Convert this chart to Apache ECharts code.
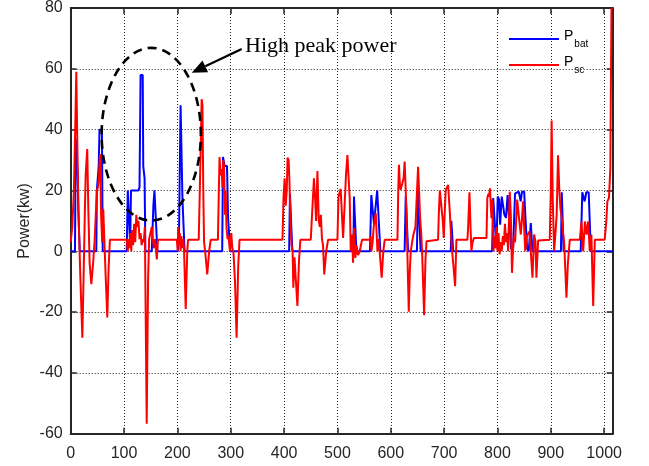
<!DOCTYPE html>
<html><head><meta charset="utf-8">
<script src="https://cdn.jsdelivr.net/npm/echarts@6/dist/echarts.min.js"></script>
<style>html,body{margin:0;padding:0;background:#fff}#c{width:649px;height:466px}</style>
</head><body><div id="c"></div>
<script>
// ---- data (time in s, power in kW) ----
const batT = [0,8,9.5,12,13,14,16,17,48,49,51,52.5,54,58.5,60,105,107,110,111.5,113,127,129,131,135,136,137.5,138.5,140,152,155,157,159.5,162.5,201,203,204,206,208,209.5,212,213.5,284,285.5,287,288.5,293,295,297,299,409.5,411,414,415.5,530,531,533.5,535.5,561,563.5,566,568.5,571.5,574.5,577.5,580.5,626,628,630.5,632.5,649,651,654,656,712.5,713.5,716,717,790,792,795,798,800.5,803,805,808,810.5,813,816,819,822,825.5,829,833,836,840,843.5,846,850,852.5,855.5,858.5,861,862.5,864.5,865.5,919,920.5,922.5,924,956,959,962,963.5,966.5,971,975,1016];
const batP = [0,0,37,37,25,15,15,0,0,20,20,28,40,40,0,0,20,20,2,20,20,21,58,58,28,28,24,0,0,15,20,20,0,0,5,20,48,48,17,17,0,0,31,31,28,28,11,11,0,0,19,19,0,0,18,18,0,0,18.5,18,9,9,20,20,0,0,18,18,0,0,20,20,0,0,10,10,0,0,17.5,18,1,18,17,8.7,18,18,12,11,18.5,18,1,0,19,19.6,19.6,16.4,19.6,19.6,10.9,1,0,0,9.3,9.3,0,0,19.4,19.4,0,0,19.4,19,16.4,19.4,19.4,0,0];
const scT = [0,3,6,9,10.5,12,13.5,15,18,21.8,24,26,28,31,33,35.5,38.7,42,45,47,49,51,53,55,57,59,61,63,65.5,68.6,71,73.5,105,107,109,110.5,112,113.5,115,117,119,121,123,125,127,129,131,133,135,137,139,142.5,145,147,150,152,154,156,158,160,161.5,163.5,199,200.5,201.5,203,204.5,206,207.5,209,211,212.5,215.6,218.5,220,240,242,245.5,247,248.5,250,252,256,259.5,262.5,276,277.5,279,281,283,284.5,286,287.5,289,290.5,292,294,296,298.5,301,303,305,308,311,314,316.5,397,399,401,403,405,406.5,408.5,410,412,414,416,417.3,419.5,421.5,425,428,430.5,450,453,456,458.5,460,462.5,465,467,469,471,473,475.3,479,482.5,500,502,506,508,510.6,513.7,516,518.7,521,523,525,527.5,529.3,531,533.7,535.6,538.7,541.8,546.2,560.6,562,563.7,566,568,571.8,573,575,577.5,580,583,586,588.7,612.5,614,615.3,617,618.5,621,624,626,628,629.5,631,633.7,636,637.5,640,642.5,646.2,648,651.2,653,655,657,658.7,662.5,665,667,670,688.7,690,691.9,695,697.5,699.4,701,703,705.6,707.5,710.6,713,715,718,720.6,723,743.7,745,747.5,749.5,751.2,753,756,779.4,781,783,784,786,787.5,788.7,790.6,792.5,794,796,798,800,802,804,806,808,810,812,814,816,818,820,823,825,827.2,829,831,833,835,837,839,841,843.7,846,848,850,852,855,857.5,860,863.7,865.6,868.7,871.2,873,876.2,878,898,900,901.5,903.7,906.2,908.5,911,913.5,916,918,920.6,923,925,929.3,932,935.6,954.4,957.5,960.6,964,967,970,973,976,979.4,982.5,1001,1004,1006,1009,1011.5,1013.7,1016];
const scP = [3,8,20,45,59,40,24,10,-8,-28.4,-10,8,25,33.6,14,-4,-10.8,-4,4,12,20,21,25,32,12,3,14,4,-8,-21.8,-6,3.8,3.8,0,4,1,6,0,7,2,9,3,12,8,10,4,6,2,4,3,8,-56.7,-10,4,4,8,4,1,4,0,-2.7,3.8,3.8,0,8,2,6,0,5,1,4,0,-19,0,3.8,3.8,20,50,48,20,3,0,-7.6,0,3.8,3.8,18,31,25,27,21,30,28,12,20,8,4,5,0,6,1,0,-10,-28.4,-5,3.8,3.8,18,24,15,20,30.8,30,23.5,10,2,0,-12,-2,-2,-18,-3,3.8,3.8,14,24,16,10,26.4,10,8,12,4,2,-7.6,0,3.8,3.8,18,20.5,20,4.4,16,25,31.6,24,17.5,0,5.5,-3.8,7.6,-2.2,2,-1.3,0,3.8,3.8,5,0,3,8,12.5,8,0,4,-2,-8.7,0,3.8,3.8,20,28.4,22,20.2,20,24,29.5,20,13,0,-19.9,-5,0,3,5.5,7.9,15,27.8,20,10.9,6,0,-21,-3,3.3,3.8,3.8,12,20,19.6,10,4.4,12,20.2,20.7,21.8,13,5,0,-6,-11.5,3.8,3.8,8,19.4,8,0,2.7,4.4,4.4,17.5,18.8,18,20.7,15,10.9,17,0,5,1,8,0,6,-1,3,0,5,2,9,3,6,0,19.6,12,-7.1,0,5,3,10,17,16.4,9.8,5.5,10.9,16.4,8,0,5,5.5,6.5,7,-8.7,5.5,3.3,-8.7,3.5,3.8,3.8,20,43,16.4,0,5.5,12,31.6,20,14,10.9,6,3,-15.3,-4,3.8,3.8,9.8,0,9.8,5.5,9.8,0,5.5,-18,3.8,3.8,9.8,16.4,17.5,27,79.7,80];

const xMin = 0, xMax = 1016, xStep = 100;
const yMin = -60, yMax = 80, yStep = 20;
const seriesNames = ['P_bat', 'P_sc'];
const yTitle = 'Power(kw)';
const noteText = 'High peak power';
// annotation geometry in data units
const noteEllipse = {cx: 151, cy: 38.5, rx: 93, ry: 28.4};
const noteArrow = {x1: 320.6, y1: 66.5, x2: 226.9, y2: 58.7};
const noteLabel = {x: 326.8, y: 67.4};

const pair = (t, v) => t.map((x, i) => [x, v[i]]);
const FONT = "'Liberation Sans', Arial, sans-serif";
const AX = '#262626';

const chart = echarts.init(document.getElementById('c'), null, {renderer: 'canvas'});
const baseX = {type: 'value', min: xMin, max: xMax, interval: xStep};
const baseY = {type: 'value', min: yMin, max: yMax, interval: yStep};
chart.setOption({
  animation: false,
  backgroundColor: '#fff',
  grid: {left: 70.7, right: 36.3, top: 5.6, bottom: 32.3, containLabel: false},
  legend: {
    orient: 'vertical', left: 509, top: 29, padding: 0, itemWidth: 50, itemHeight: 2, itemGap: 6,
    icon: 'rect',
    data: seriesNames,
    formatter: n => n === 'P_bat' ? '{p|P}{s|bat}' : '{p|P}{s|sc}',
    textStyle: {
      fontFamily: FONT, color: '#000',
      rich: {
        p: {fontFamily: FONT, fontSize: 14, color: '#000', padding: [0, 0, 6, 0]},
        s: {fontFamily: FONT, fontSize: 10, color: '#000', padding: [10, 0, 0, 1]}
      }
    }
  },
  xAxis: [
    Object.assign({}, baseX, {
      position: 'bottom',
      axisLine: {show: true, onZero: false, lineStyle: {color: AX, width: 2}},
      axisTick: {show: true, inside: true, length: 6, lineStyle: {color: AX, width: 1.5}},
      axisLabel: {color: AX, fontSize: 16, fontFamily: FONT, margin: 12,
        formatter: v => (v % xStep === 0 ? String(v) : '')},
      splitLine: {show: true, lineStyle: {color: '#222', width: 1, type: [1, 2]}}
    }),
    Object.assign({}, baseX, {
      position: 'top',
      axisLine: {show: true, onZero: false, lineStyle: {color: AX, width: 2}},
      axisTick: {show: true, inside: true, length: 6, lineStyle: {color: AX, width: 1.5}},
      axisLabel: {show: false}, splitLine: {show: false}
    })
  ],
  yAxis: [
    Object.assign({}, baseY, {
      position: 'left',
      name: yTitle, nameLocation: 'middle', nameGap: 38, nameMoveOverlap: false,
      nameTextStyle: {color: AX, fontSize: 16, fontFamily: FONT},
      axisLine: {show: true, onZero: false, lineStyle: {color: AX, width: 2}},
      axisTick: {show: true, inside: true, length: 6, lineStyle: {color: AX, width: 1.5}},
      axisLabel: {color: AX, fontSize: 16, fontFamily: FONT, margin: 8},
      splitLine: {show: true, lineStyle: {color: '#222', width: 1, type: [1, 2]}}
    }),
    Object.assign({}, baseY, {
      position: 'right',
      axisLine: {show: true, onZero: false, lineStyle: {color: AX, width: 2}},
      axisTick: {show: true, inside: true, length: 6, lineStyle: {color: AX, width: 1.5}},
      axisLabel: {show: false}, splitLine: {show: false}
    })
  ],
  series: [
    {name: 'P_bat', type: 'line', data: pair(batT, batP), symbol: 'none',
     lineStyle: {color: '#0000ff', width: 2}, itemStyle: {color: '#0000ff'}, z: 2},
    {name: 'P_sc', type: 'line', data: pair(scT, scP), symbol: 'none',
     lineStyle: {color: '#ff0000', width: 2}, itemStyle: {color: '#ff0000'}, z: 3}
  ]
});

// annotation (positioned from data coordinates)
const P = (x, y) => chart.convertToPixel({xAxisIndex: 0, yAxisIndex: 0}, [x, y]);
const c = P(noteEllipse.cx, noteEllipse.cy);
const ex = P(noteEllipse.cx + noteEllipse.rx, noteEllipse.cy);
const ey = P(noteEllipse.cx, noteEllipse.cy + noteEllipse.ry);
const a1 = P(noteArrow.x1, noteArrow.y1), a2 = P(noteArrow.x2, noteArrow.y2);
const tl = P(noteLabel.x, noteLabel.y);
const dx = a2[0] - a1[0], dy = a2[1] - a1[1], L = Math.hypot(dx, dy);
const ux = dx / L, uy = dy / L, hl = 15, hw = 6.5;
const base = [a2[0] - ux * hl, a2[1] - uy * hl];
chart.setOption({
  graphic: [
    {type: 'ellipse', shape: {cx: c[0], cy: c[1], rx: ex[0] - c[0], ry: c[1] - ey[1]},
     style: {fill: 'none', stroke: '#000', lineWidth: 2.6, lineDash: [9, 6]}, z: 100},
    {type: 'line', shape: {x1: a1[0], y1: a1[1], x2: base[0], y2: base[1]},
     style: {stroke: '#000', lineWidth: 2.2}, z: 100},
    {type: 'polygon', shape: {points: [a2, [base[0] - uy * hw, base[1] + ux * hw], [base[0] + uy * hw, base[1] - ux * hw]]},
     style: {fill: '#000'}, z: 100},
    {type: 'text', x: tl[0], y: tl[1],
     style: {text: noteText, fill: '#000', font: "22px 'Liberation Serif', 'Times New Roman', serif",
       textAlign: 'left', textVerticalAlign: 'middle'}, z: 100}
  ]
});
</script></body></html>
